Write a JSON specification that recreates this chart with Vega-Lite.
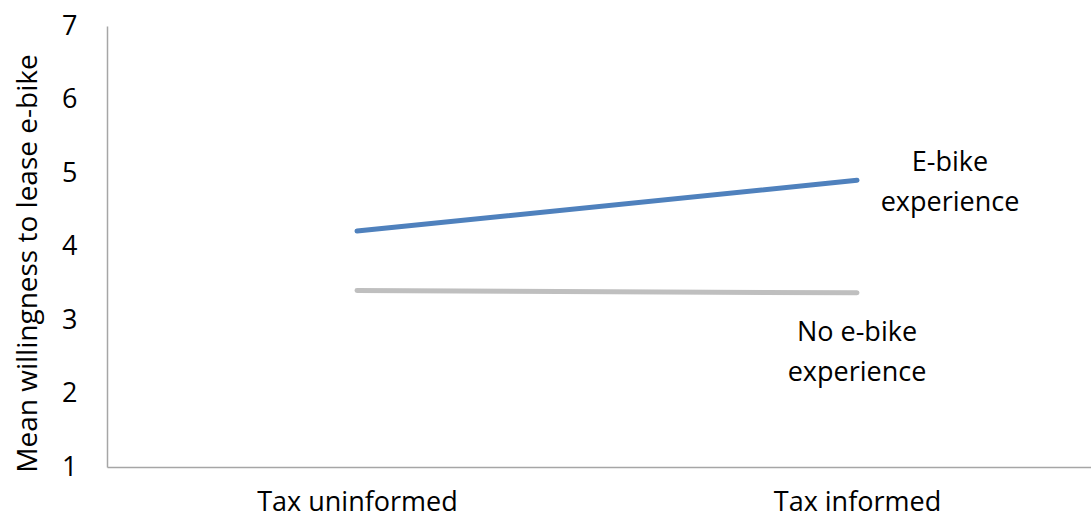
{
  "$schema": "https://vega.github.io/schema/vega-lite/v6.json",
  "width": 1000,
  "height": 441,
  "autosize": {"type": "none"},
  "padding": {"left": 107, "top": 26, "right": 0, "bottom": 55},
  "config": {
    "view": {"stroke": null},
    "font": "Open Sans",
    "axis": {"grid": false, "ticks": false, "domainColor": "#A6A6A6", "domainWidth": 1.5, "labelColor": "#000000", "titleColor": "#000000", "labelFont": "Open Sans", "titleFont": "Open Sans", "titleFontWeight": "normal"}
  },
  "datasets": {
    "lines": [
      {"condition": "Tax uninformed", "group": "E-bike experience", "value": 4.21},
      {"condition": "Tax informed", "group": "E-bike experience", "value": 4.9},
      {"condition": "Tax uninformed", "group": "No e-bike experience", "value": 3.4},
      {"condition": "Tax informed", "group": "No e-bike experience", "value": 3.37}
    ],
    "labels": [
      {"condition": "Tax informed", "group": "E-bike experience", "label": "E-bike\nexperience", "value": 5.14, "shift": 93},
      {"condition": "Tax informed", "group": "No e-bike experience", "label": "No e-bike\nexperience", "value": 2.82, "shift": 0}
    ]
  },
  "layer": [
    {
      "data": {"name": "lines"},
      "mark": {"type": "line", "strokeWidth": 5, "strokeCap": "round"},
      "encoding": {
        "x": {"field": "condition", "type": "nominal",
              "scale": {"type": "point", "domain": ["Tax uninformed", "Tax informed"], "padding": 0.5},
              "axis": {"title": null, "labelAngle": 0, "labelFontSize": 27, "labelPadding": 22, "labelLimit": 400}},
        "y": {"field": "value", "type": "quantitative", "scale": {"domain": [1, 7], "nice": false, "zero": false},
              "axis": {"values": [1, 2, 3, 4, 5, 6, 7], "format": "d", "title": "Mean willingness to lease e-bike", "labelFontSize": 27, "labelPadding": 30, "titleFontSize": 28, "titlePadding": 19, "titleY": 237}},
        "color": {"field": "group", "type": "nominal",
                  "scale": {"domain": ["E-bike experience", "No e-bike experience"], "range": ["#4F81BD", "#BFBFBF"]},
                  "legend": null}
      }
    },
    {
      "data": {"name": "labels"},
      "transform": [{"filter": "datum.shift > 0"}],
      "mark": {"type": "text", "fontSize": 27, "lineBreak": "\n", "lineHeight": 40, "align": "center", "baseline": "middle", "dx": 93, "color": "#000000"},
      "encoding": {
        "x": {"field": "condition", "type": "nominal"},
        "y": {"field": "value", "type": "quantitative"},
        "text": {"field": "label"}
      }
    },
    {
      "data": {"name": "labels"},
      "transform": [{"filter": "datum.shift == 0"}],
      "mark": {"type": "text", "fontSize": 27, "lineBreak": "\n", "lineHeight": 40, "align": "center", "baseline": "middle", "color": "#000000"},
      "encoding": {
        "x": {"field": "condition", "type": "nominal"},
        "y": {"field": "value", "type": "quantitative"},
        "text": {"field": "label"}
      }
    }
  ]
}
